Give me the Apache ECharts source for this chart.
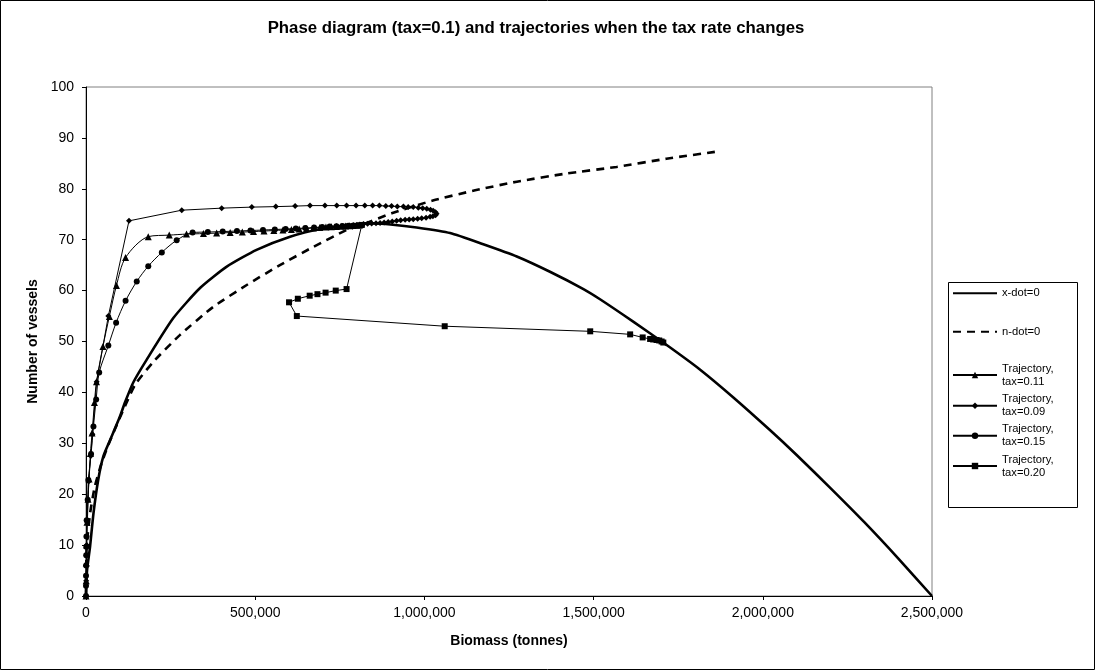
<!DOCTYPE html>
<html><head><meta charset="utf-8">
<script src="https://cdn.jsdelivr.net/npm/echarts@6/dist/echarts.min.js"></script>
<style>html,body{margin:0;padding:0;background:#fff}#c{width:1095px;height:670px}</style>
</head><body><div id="c"></div>
<script>
const chartTitle = 'Phase diagram (tax=0.1) and trajectories when the tax rate changes';
const xName = 'Biomass (tonnes)';
const yName = 'Number of vessels';
const xMin = 0, xMax = 2500000, xStep = 500000;
const yMin = 0, yMax = 100, yStep = 10;
const seriesNames = ['x-dot=0', 'n-dot=0', 'Trajectory,\ntax=0.11', 'Trajectory,\ntax=0.09', 'Trajectory,\ntax=0.15', 'Trajectory,\ntax=0.20'];

// [biomass (tonnes), vessels]
const xdot = [[0,0],[3000,5],[12000,9.7],[22000,16.2],[36000,22.8],[51000,27.4],[71000,30.6],[100000,35.2],[115000,38.0],[140000,42.0],[179000,46.4],[258000,54.6],[337000,60.5],[416000,64.7],[504000,68.0],[603000,70.6],[701000,72.2],[800000,73.1],[850000,73.2],[900000,73.0],[977000,72.4],[1076000,71.3],[1174000,69.1],[1273000,66.7],[1371000,63.7],[1470000,60.3],[1519000,58.3],[1617000,53.9],[1716000,49.3],[1814000,44.5],[1913000,39.0],[2021000,32.6],[2100000,27.7],[2200000,21.2],[2300000,14.5],[2400000,7.4],[2500000,0]];
const ndot = [[0,0],[500,4],[2000,9.7],[12000,16.2],[26000,21.5],[46000,26.1],[66000,29.7],[100000,35.0],[120000,38.0],[145000,41.5],[199000,46.0],[278000,51.3],[376000,56.8],[475000,61.1],[573000,65.0],[672000,68.6],[770000,71.9],[810000,72.8],[908000,75.3],[1025000,77.7],[1150000,79.7],[1273000,81.4],[1420000,83.0],[1568000,84.3],[1715000,85.9],[1863000,87.3]];
const traj011 = [[0,0],[500,3],[1000,6.5],[2000,10],[3000,14.5],[6000,19],[9000,23],[13000,28],[18000,32],[25000,38],[31000,42.1],[50000,49],[69000,54.9],[90000,61],[117000,66.5],[184000,70.6],[246000,70.9],[297000,71.1],[347000,71.2],[386000,71.3],[426000,71.4],[462000,71.5],[495000,71.6],[526000,71.7],[555000,71.8],[582000,71.9],[607000,72.0],[630000,72.1],[652000,72.2],[672000,72.3],[691000,72.4],[709000,72.5],[725000,72.55],[740000,72.6],[754000,72.65],[767000,72.7],[779000,72.75],[790000,72.8],[800000,72.85],[809000,72.9]];
const traj009 = [[0,0],[500,3],[1000,6],[2000,10],[4000,14.5],[8000,22.5],[14000,27.5],[19000,31.8],[31500,42.1],[66000,55.0],[127000,73.7],[283000,75.8],[401000,76.2],[490000,76.4],[561000,76.5],[618000,76.6],[662000,76.7],[706000,76.7],[741000,76.7],[770000,76.7],[798000,76.7],[824000,76.7],[847000,76.7],[867000,76.7],[886000,76.6],[903000,76.6],[920000,76.5],[938000,76.5],[952000,76.4],[967000,76.4],[982000,76.3],[995000,76.2],[1007000,76.1],[1018000,75.9],[1026000,75.7],[1033000,75.4],[1036000,75.1],[1033000,74.8],[1025000,74.6],[1017000,74.5],[1005000,74.3],[992000,74.2],[980000,74.1],[967000,74.0],[955000,73.95],[943000,73.9],[930000,73.8],[918000,73.7],[905000,73.6],[893000,73.5],[881000,73.4],[869000,73.3],[857000,73.25],[844000,73.2],[832000,73.15],[820000,73.1]];
const traj015 = [[0,0],[0,2],[0,4],[300,6],[600,8],[1000,9.7],[1300,11.7],[2000,14.9],[5000,18.9],[7000,22.8],[15000,27.9],[22000,33.3],[30000,38.6],[39000,43.9],[66000,49.2],[89000,53.7],[117000,58.0],[150000,61.8],[184000,64.8],[224000,67.5],[268000,69.9],[315000,71.4],[360000,71.5],[404000,71.6],[446000,71.7],[486000,71.8],[523000,71.9],[558000,72.0],[590000,72.1],[620000,72.2],[648000,72.3],[674000,72.4],[698000,72.5],[720000,72.6],[740000,72.65],[758000,72.7],[775000,72.75],[790000,72.8],[803000,72.85],[815000,72.9]];
const traj020 = [[815000,72.9],[770000,60.3],[738000,60.0],[708000,59.6],[684000,59.3],[661000,59.0],[626000,58.4],[600000,57.7],[623000,55.0],[1060000,53.0],[1490000,52.0],[1608000,51.4],[1645000,50.8],[1667000,50.5],[1676000,50.4],[1686000,50.3],[1694000,50.2],[1701000,50.0],[1706000,49.8]];

const FONT = '"Liberation Sans", Arial, sans-serif';
const chart = echarts.init(document.getElementById('c'), null, {renderer: 'canvas'});

function trajSeries(name, data, symbol, size, smooth) {
  return {
    name, type: 'line', data, symbol, symbolSize: size, showSymbol: true, smooth,
    lineStyle: {color: '#000', width: 1}, itemStyle: {color: '#000', borderColor: '#000', borderWidth: 0},
    emphasis: {disabled: true}, z: 3
  };
}
const legendBase = {
  orient: 'vertical', padding: 0, itemWidth: 44, itemHeight: 8, itemGap: 0, selectedMode: false,
  textStyle: {fontFamily: FONT, fontSize: 11.2, color: '#000', lineHeight: 13}
};
function legendAt(name, top, twoLine, noSymbol) {
  const l = Object.assign({}, legendBase, {data: [name], left: 952, top});
  if (twoLine) l.textStyle = Object.assign({}, legendBase.textStyle, {padding: [13, 0, 0, 0]});
  if (noSymbol) l.itemStyle = {opacity: 0};
  return l;
}

const option = {
  animation: false,
  backgroundColor: '#fff',
  title: {
    text: chartTitle, left: 536, top: 20, textAlign: 'center', padding: 0,
    textStyle: {fontFamily: FONT, fontSize: 16.8, fontWeight: 'bold', color: '#000'}
  },
  grid: {left: 86, right: 163, top: 87, bottom: 74, show: true, borderColor: '#808080', borderWidth: 1, containLabel: false},
  xAxis: {
    type: 'value', min: xMin, max: xMax, interval: xStep,
    name: xName, nameLocation: 'middle', nameGap: 38,
    nameTextStyle: {fontFamily: FONT, fontSize: 14, fontWeight: 'bold', color: '#000'},
    axisLine: {show: true, onZero: false, lineStyle: {color: '#000', width: 1}},
    axisTick: {show: true, length: 4, lineStyle: {color: '#000'}},
    axisLabel: {fontFamily: FONT, fontSize: 14, color: '#000', margin: 10, formatter: v => v.toLocaleString('en-US')},
    splitLine: {show: false}
  },
  yAxis: {
    type: 'value', min: yMin, max: yMax, interval: yStep,
    name: yName, nameLocation: 'middle', nameGap: 40,
    nameTextStyle: {fontFamily: FONT, fontSize: 14, fontWeight: 'bold', color: '#000'},
    axisLine: {show: true, onZero: false, lineStyle: {color: '#000', width: 1}},
    axisTick: {show: true, length: 4, lineStyle: {color: '#000'}},
    axisLabel: {fontFamily: FONT, fontSize: 14, color: '#000', margin: 12},
    splitLine: {show: false}
  },
  legend: [
    legendAt(seriesNames[0], 286.8, false, true),
    legendAt(seriesNames[1], 325.2, false, true),
    legendAt(seriesNames[2], 355.5, true, false),
    legendAt(seriesNames[3], 386.2, true, false),
    legendAt(seriesNames[4], 416.2, true, false),
    legendAt(seriesNames[5], 446.5, true, false)
  ],
  series: [
    {name: seriesNames[0], type: 'line', data: xdot, symbol: 'none', smooth: 0.2,
     lineStyle: {color: '#000', width: 2.6}, itemStyle: {color: '#000'}, emphasis: {disabled: true}, z: 2},
    {name: seriesNames[1], type: 'line', data: ndot, symbol: 'none', smooth: 0.2,
     lineStyle: {color: '#000', width: 2.6, type: [8, 6]}, itemStyle: {color: '#000'}, emphasis: {disabled: true}, z: 2},
    trajSeries(seriesNames[2], traj011, 'triangle', 7, 0.3),
    trajSeries(seriesNames[3], traj009, 'diamond', 6, false),
    trajSeries(seriesNames[4], traj015, 'circle', 6, 0.3),
    trajSeries(seriesNames[5], traj020, 'rect', 6, false)
  ],
  graphic: [
    {type: 'rect', shape: {x: 0.5, y: 0.5, width: 1094, height: 669}, style: {fill: 'none', stroke: '#000', lineWidth: 1}, silent: true, z: -1},
    {type: 'rect', shape: {x: 948.5, y: 282.5, width: 129, height: 225}, style: {fill: '#fff', stroke: '#000', lineWidth: 1}, silent: true, z: 0}
  ]
};
chart.setOption(option);
</script></body></html>
